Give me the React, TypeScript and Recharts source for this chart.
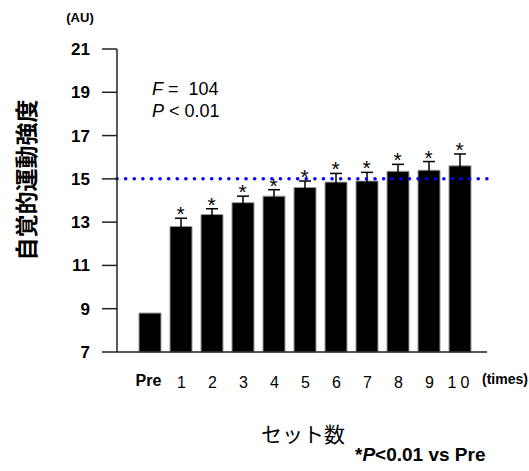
import React from "react";
import { ComposedChart, Bar, ErrorBar, Line, XAxis, YAxis, ReferenceLine } from "recharts";

const sets = ["Pre", "1", "2", "3", "4", "5", "6", "7", "8", "9", "10"];
const rpe = [8.8, 12.8, 13.35, 13.9, 14.2, 14.6, 14.85, 14.9, 15.35, 15.4, 15.6];
const sem = [0, 0.38, 0.27, 0.3, 0.3, 0.3, 0.4, 0.4, 0.32, 0.4, 0.55];
const significant = [false, true, true, true, true, true, true, true, true, true, true];
const yTicks = [7, 9, 11, 13, 15, 17, 19, 21];

const data = sets.map((s, i) => ({
  set: s,
  value: rpe[i],
  err: sem[i],
  star: significant[i] ? rpe[i] + sem[i] : null,
}));

const LATIN = "'Liberation Sans', Arial, sans-serif";
const JP = "'Noto Sans CJK JP', sans-serif";
const AXIS = "#222";

const XTick = (props: any) => {
  const { x, y, payload } = props;
  const isPre = payload.value === "Pre";
  return (
    <text
      x={isPre ? x - 1 : x + 1}
      y={isPre ? y + 26 : y + 28}
      textAnchor="middle"
      fontFamily={LATIN}
      fontSize={16}
      fontWeight={isPre ? "bold" : "normal"}
      letterSpacing={payload.value === "10" ? 4 : 0}
      fill="#000"
    >
      {payload.value}
    </text>
  );
};

const Star = (props: any) => {
  const { cx, cy, value, index } = props;
  if (value == null || cy == null) return <g key={`s${index}`} />;
  return (
    <text key={`s${index}`} x={cx} y={cy + 3} textAnchor="middle" fontFamily={LATIN} fontSize={21} fill="#000">
      *
    </text>
  );
};

export default function App() {
  return (
    <div style={{ position: "absolute", left: 0, top: 0, width: 529, height: 471, background: "#fff" }}>
      <ComposedChart width={529} height={471} data={data} margin={{ top: 49, right: 42, bottom: 89, left: 57 }}>
        <XAxis
          dataKey="set"
          interval={0}
          tickLine={false}
          axisLine={{ stroke: AXIS, strokeWidth: 1.5 }}
          tick={<XTick />}
          padding={{ left: 17, right: 12 }}
        />
        <YAxis
          width={60}
          domain={[7, 21]}
          ticks={yTicks}
          interval={0}
          tickSize={15}
          tickMargin={12}
          axisLine={{ stroke: AXIS, strokeWidth: 1.5 }}
          tickLine={{ stroke: AXIS, strokeWidth: 1.5 }}
          tick={{ fontFamily: LATIN, fontSize: 17, fontWeight: "bold", fill: "#000" }}
        />
        <Bar dataKey="value" fill="#000" stroke="#999" strokeWidth={1} barSize={22} isAnimationActive={false}>
          <ErrorBar dataKey="err" direction="y" width={6} stroke="#000" strokeWidth={1.5} />
        </Bar>
        <ReferenceLine
          y={15}
          stroke="#0000ff"
          strokeWidth={3.5}
          strokeDasharray="0.1 8.5"
          strokeLinecap="round"
        />
        <Line
          dataKey="star"
          stroke="none"
          dot={<Star />}
          activeDot={false}
          legendType="none"
          isAnimationActive={false}
          connectNulls={false}
        />
      </ComposedChart>
      <svg width={529} height={471} style={{ position: "absolute", left: 0, top: 0, pointerEvents: "none" }}>
        <text x={80} y={22} textAnchor="middle" fontFamily={LATIN} fontSize={13} fontWeight="bold" fill="#000">
          (AU)
        </text>
        <text x={152} y={95} fontFamily={LATIN} fontSize={18} fill="#000">
          <tspan fontStyle="italic">F</tspan>
          <tspan>{"\u00a0=\u00a0\u00a0104"}</tspan>
        </text>
        <text x={152} y={117} fontFamily={LATIN} fontSize={18} fill="#000">
          <tspan fontStyle="italic">P</tspan>
          <tspan>{"\u00a0<\u00a00.01"}</tspan>
        </text>
        <text
          x={35}
          y={180}
          transform="rotate(-90 35 180)"
          textAnchor="middle"
          fontFamily={JP}
          fontSize={23}
          fontWeight="bold"
          fill="#000"
        >
          自覚的運動強度
        </text>
        <text x={482} y={384} fontFamily={LATIN} fontSize={14} fontWeight="bold" fill="#000">
          (times)
        </text>
        <text x={303} y={442} textAnchor="middle" fontFamily={JP} fontSize={21} fill="#000">
          セット数
        </text>
        <text x={355} y={461} fontFamily={LATIN} fontSize={19} fontWeight="bold" fill="#000">
          *<tspan fontStyle="italic">P</tspan>&lt;0.01 vs Pre
        </text>
      </svg>
    </div>
  );
}
